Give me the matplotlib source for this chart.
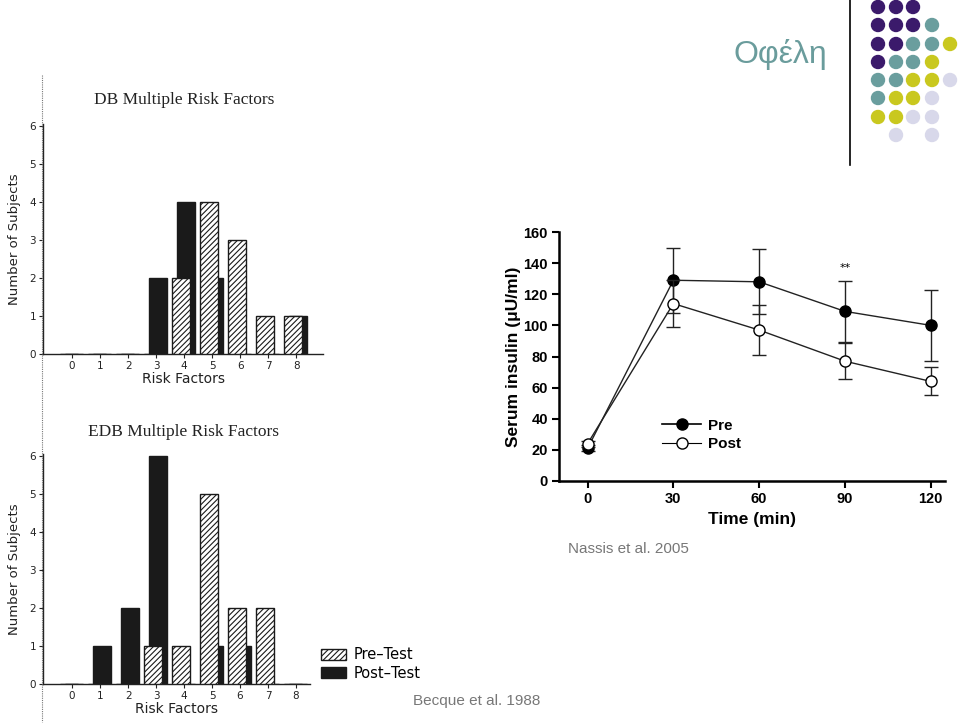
import matplotlib.pyplot as plt
import numpy as np
from matplotlib.lines import Line2D
from matplotlib.patches import Ellipse, Patch

W, H = 960, 724

# bar charts (Becque et al. 1988)
risk_factors = [0, 1, 2, 3, 4, 5, 6, 7, 8]
db_pre = [0, 0, 0, 0, 2, 4, 3, 1, 1]
db_post = [0, 0, 0, 2, 4, 2, 0, 0, 1]
edb_pre = [0, 0, 0, 1, 1, 5, 2, 2, 0]
edb_post = [0, 1, 2, 6, 0, 1, 1, 0, 0]

# insulin curve (Nassis et al. 2005)
time_min = [0, 30, 60, 90, 120]
pre_insulin = [21, 129, 128, 109, 100]
pre_err = [2, 21, 21, 19.5, 23]
post_insulin = [24, 114, 97, 77, 64]
post_err = [2, 15, 16, 11.5, 9]

# decorative dot grid, top right of the slide
dot_rows = ["PPP..", "PPPT.", "PPTTY", "PTTY.", "TTYYL", "TYYL.", "YYLL.", ".L.L."]
dot_colors = {"P": "#3b1a6b", "T": "#6a9e9e", "Y": "#c9c81f", "L": "#d8d8ea"}


def fx(px):
    return px / W


def fy(py):
    return 1 - py / H


def box(left, top, right, bottom):
    return [fx(left), fy(bottom), (right - left) / W, (bottom - top) / H]


fig = plt.figure(figsize=(W / 100, H / 100), dpi=100)
fig.patch.set_facecolor("white")
plt.rcParams["hatch.linewidth"] = 0.8


def risk_panel(rect, pre, post, title, title_y, xright):
    ax = fig.add_axes(rect)
    x = np.array(risk_factors)
    ax.bar(x + 0.07, post, width=0.64, color="#1a1a1a", edgecolor="#1a1a1a", zorder=2)
    ax.bar(x - 0.11, pre, width=0.64, color="white", edgecolor="#1a1a1a",
           hatch="//////", linewidth=1.0, zorder=3)
    ax.set_xlim(-1.04, xright)
    ax.set_ylim(0, 6.05)
    ax.set_xticks(risk_factors)
    ax.set_yticks(range(7))
    for s in ("top", "right"):
        ax.spines[s].set_visible(False)
    for s in ("left", "bottom"):
        ax.spines[s].set_linewidth(1.0)
        ax.spines[s].set_color("#222222")
    ax.tick_params(length=3, width=0.8, labelsize=7.5, pad=2, colors="#222222")
    ax.set_xlabel("Risk Factors", fontsize=10, labelpad=1, color="#222222")
    ax.set_ylabel("Number of Subjects", fontsize=9.5, labelpad=6, color="#222222")
    fig.text(fx(184), fy(title_y), title, ha="center", va="center",
             family="Liberation Serif", fontsize=12.5, color="#222222")
    return ax


risk_panel(box(43, 124, 323, 354), db_pre, db_post, "DB Multiple Risk Factors", 100, 8.96)
risk_panel(box(43, 454, 310, 684), edb_pre, edb_post, "EDB Multiple Risk Factors", 432, 8.5)

# legend for the bar charts
handles = [Patch(facecolor="white", edgecolor="#1a1a1a", hatch="//////", label="Pre\u2013Test"),
           Patch(facecolor="#1a1a1a", edgecolor="#1a1a1a", label="Post\u2013Test")]
fig.legend(handles=handles, loc="center left", bbox_to_anchor=(fx(308), fy(664)),
           frameon=False, fontsize=10.5, handlelength=1.7, handleheight=0.8,
           handletextpad=0.5, labelspacing=0.25)

# scanned page edge
fig.add_artist(Line2D([fx(42), fx(42)], [fy(75), fy(722)], color="#777777",
                      lw=0.8, linestyle=(0, (1, 1))))

# insulin panel
ax = fig.add_axes(box(559, 232, 945, 481))
ax.errorbar(time_min, pre_insulin, yerr=pre_err, color="#222222", lw=1.0,
            marker="o", markersize=8, markerfacecolor="black", markeredgecolor="black",
            capsize=5, elinewidth=1.0, capthick=1.0, label="Pre", zorder=3)
ax.errorbar(time_min, post_insulin, yerr=post_err, color="#222222", lw=1.0,
            marker="o", markersize=8, markerfacecolor="white", markeredgecolor="black",
            capsize=5, elinewidth=1.0, capthick=1.0, label="Post", zorder=4)
ax.text(90, 137, "**", ha="center", va="center", fontsize=8)
ax.set_xlim(-10, 125)
ax.set_ylim(0, 160)
ax.set_xticks(time_min)
ax.set_yticks(range(0, 161, 20))
for s in ("top", "right"):
    ax.spines[s].set_visible(False)
for s in ("left", "bottom"):
    ax.spines[s].set_linewidth(1.8)
ax.tick_params(length=5, width=1.5, labelsize=10.5, pad=3)
for lab in ax.get_xticklabels() + ax.get_yticklabels():
    lab.set_fontweight("bold")
    lab.set_family("Liberation Sans")
ax.set_xlabel("Time (min)", fontsize=12.5, fontweight="bold", family="Liberation Sans", labelpad=4)
ax.set_ylabel("Serum insulin (\u03bcU/ml)", fontsize=12.5, fontweight="bold",
              family="Liberation Sans", labelpad=2)
leg_handles = [Line2D([], [], color="black", lw=1.2, marker="o", markersize=8,
                      markerfacecolor="black", label="Pre"),
               Line2D([], [], color="black", lw=0.8, marker="o", markersize=8,
                      markerfacecolor="white", markeredgecolor="black", label="Post")]
ax.legend(handles=leg_handles, loc="center left",
          bbox_to_anchor=((648 - 559) / 386, (481 - 435) / 249), frameon=False,
          prop={"weight": "bold", "size": 11, "family": "Liberation Sans"},
          handlelength=2.6, handletextpad=0.4, labelspacing=0.3)

# captions and slide title
fig.text(fx(568), fy(549), "Nassis et al. 2005", fontsize=11, color="#777777",
         va="center", family="Liberation Sans")
fig.text(fx(413), fy(701), "Becque et al. 1988", fontsize=11, color="#777777",
         va="center", family="Liberation Sans")
fig.text(fx(780), fy(55), "\u039f\u03c6\u03ad\u03bb\u03b7", fontsize=23, color="#6a9c9c",
         ha="center", va="center", family="Liberation Sans")
fig.add_artist(Line2D([fx(850), fx(850)], [fy(0), fy(165)], color="black", lw=1.2))

col_x = [878, 896, 913, 932, 950]
row_y = [7, 25, 44, 62, 80, 98, 117, 135]
for r, row in enumerate(dot_rows):
    for c, key in enumerate(row):
        if key in dot_colors:
            fig.add_artist(Ellipse((fx(col_x[c]), fy(row_y[r])), 13 / W, 13 / H,
                                   color=dot_colors[key], transform=fig.transFigure))

fig.savefig("out.png", dpi=100)
